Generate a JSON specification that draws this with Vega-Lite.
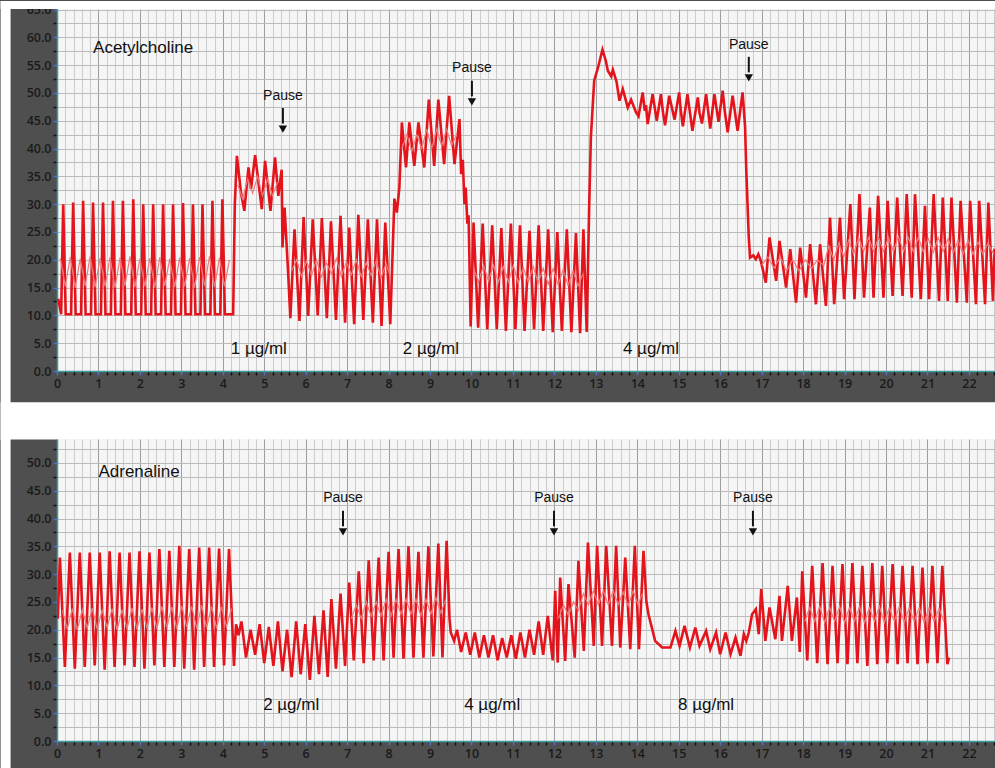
{
"$schema": "https://vega.github.io/schema/vega-lite/v6.json",
"background": "#4f4f4f",
"padding": 0,
"bounds": "flush",
"spacing": 68,
"config": {"view": {"stroke": null, "fill": "#f5f5f5"},
 "axis": {"labelFont": "Open Sans", "labelFontSize": 12.5, "labelFontWeight": 600, "labelColor": "#1a1a1a", "labelPadding": 2, "labelFlush": false, "labelOverlap": false, "labelBound": false, "tickSize": 4, "tickWidth": 1.5, "domainColor": "#3f9c9c", "domainWidth": 1.5, "gridWidth": 1}},
"datasets": {
"ach": [
{"x":0.03,"y":13},
{"x":0.1,"y":10.2},{"x":0.15,"y":30.0},{"x":0.21,"y":10.2},
{"x":0.34,"y":10.2},{"x":0.39,"y":30.3},{"x":0.45,"y":10.2},
{"x":0.58,"y":10.2},{"x":0.63,"y":30.6},{"x":0.69,"y":10.2},
{"x":0.82,"y":10.2},{"x":0.87,"y":30.3},{"x":0.93,"y":10.2},
{"x":1.06,"y":10.2},{"x":1.11,"y":30.3},{"x":1.17,"y":10.2},
{"x":1.3,"y":10.2},{"x":1.35,"y":30.6},{"x":1.41,"y":10.2},
{"x":1.54,"y":10.2},{"x":1.59,"y":30.6},{"x":1.65,"y":10.2},
{"x":1.79,"y":10.2},{"x":1.84,"y":30.9},{"x":1.9,"y":10.2},
{"x":2.03,"y":10.2},{"x":2.08,"y":30.0},{"x":2.14,"y":10.2},
{"x":2.27,"y":10.2},{"x":2.32,"y":30.0},{"x":2.38,"y":10.2},
{"x":2.51,"y":10.2},{"x":2.56,"y":30.0},{"x":2.62,"y":10.2},
{"x":2.75,"y":10.2},{"x":2.8,"y":30.0},{"x":2.86,"y":10.2},
{"x":2.99,"y":10.2},{"x":3.04,"y":30.2},{"x":3.1,"y":10.2},
{"x":3.23,"y":10.2},{"x":3.28,"y":30.0},{"x":3.34,"y":10.2},
{"x":3.46,"y":10.2},{"x":3.51,"y":30.0},{"x":3.57,"y":10.2},
{"x":3.7,"y":10.2},{"x":3.75,"y":30.6},{"x":3.81,"y":10.2},
{"x":3.94,"y":10.2},{"x":3.99,"y":30.9},{"x":4.05,"y":10.2},
{"x":4.25,"y":10.2},{"x":4.29,"y":30},{"x":4.34,"y":38.7},{"x":4.44,"y":32},{"x":4.52,"y":28.8},{"x":4.62,"y":36.6},{"x":4.68,"y":32.7},{"x":4.78,"y":38.8},{"x":4.94,"y":29.1},{"x":5.02,"y":37.8},{"x":5.15,"y":28.8},{"x":5.26,"y":38.4},{"x":5.34,"y":31.5},{"x":5.42,"y":36.2},{"x":5.44,"y":22.2},{"x":5.49,"y":29.4},{"x":5.57,"y":18.6},{"x":5.63,"y":9.5},
{"x":5.73,"y":25.5},{"x":5.85,"y":9.0},{"x":5.95,"y":27.7},{"x":6.06,"y":9.9},{"x":6.17,"y":27.3},{"x":6.29,"y":10.0},{"x":6.39,"y":27.5},{"x":6.51,"y":9.5},{"x":6.61,"y":26.9},{"x":6.73,"y":9.2},{"x":6.84,"y":27.9},{"x":6.95,"y":8.7},{"x":7.05,"y":25.8},{"x":7.17,"y":8.4},{"x":7.27,"y":28.1},{"x":7.39,"y":9.2},{"x":7.5,"y":27.3},{"x":7.62,"y":8.7},{"x":7.72,"y":27.3},{"x":7.83,"y":8.1},{"x":7.92,"y":26.7},{"x":8.04,"y":8.4},
{"x":8.1,"y":22},{"x":8.14,"y":31},{"x":8.2,"y":28.5},{"x":8.26,"y":33},{"x":8.32,"y":44.7},{"x":8.42,"y":36.6},{"x":8.5,"y":44.7},{"x":8.62,"y":36.9},{"x":8.72,"y":44.7},{"x":8.86,"y":36.6},{"x":8.97,"y":48.8},{"x":9.1,"y":36.9},{"x":9.2,"y":48.8},{"x":9.34,"y":37.2},{"x":9.46,"y":49.5},{"x":9.59,"y":37.2},{"x":9.71,"y":45.3},{"x":9.75,"y":35.4},{"x":9.79,"y":38},{"x":9.83,"y":30},{"x":9.86,"y":33},{"x":9.9,"y":26.5},{"x":9.93,"y":28},{"x":9.98,"y":8},
{"x":10.05,"y":26.7},{"x":10.16,"y":7.8},{"x":10.27,"y":26.5},{"x":10.38,"y":7.5},{"x":10.5,"y":26.2},{"x":10.61,"y":7.5},{"x":10.72,"y":25.7},{"x":10.83,"y":7.2},{"x":10.95,"y":26.5},{"x":11.06,"y":7.5},{"x":11.17,"y":26.2},{"x":11.28,"y":7.2},{"x":11.4,"y":25.2},{"x":11.51,"y":7.5},{"x":11.62,"y":26.2},{"x":11.73,"y":7.2},{"x":11.85,"y":25.5},{"x":11.96,"y":7.0},{"x":12.07,"y":25.0},{"x":12.18,"y":7.2},{"x":12.3,"y":25.5},{"x":12.41,"y":7.0},{"x":12.52,"y":24.8},{"x":12.62,"y":6.8},{"x":12.7,"y":25.5},{"x":12.78,"y":7},
{"x":12.84,"y":30},{"x":12.88,"y":42},{"x":12.96,"y":52.2},{"x":13.05,"y":54.5},{"x":13.16,"y":57.8},{"x":13.24,"y":55.8},{"x":13.29,"y":54},{"x":13.37,"y":53},{"x":13.41,"y":54.2},{"x":13.5,"y":52},{"x":13.57,"y":48.6},{"x":13.65,"y":50.7},{"x":13.77,"y":47.4},{"x":13.85,"y":48.8},{"x":13.97,"y":46.5},
{"x":14.03,"y":45.8},{"x":14.13,"y":50.1},{"x":14.18,"y":46.8},{"x":14.21,"y":47.8},{"x":14.25,"y":44.4},{"x":14.37,"y":49.8},{"x":14.47,"y":45},{"x":14.57,"y":49.8},{"x":14.62,"y":46.5},{"x":14.67,"y":44.2},{"x":14.77,"y":49.5},{"x":14.9,"y":45.2},{"x":15.01,"y":50.1},{"x":15.05,"y":46.8},{"x":15.1,"y":44},{"x":15.21,"y":49.8},{"x":15.33,"y":43.2},{"x":15.46,"y":49.2},{"x":15.5,"y":46.5},{"x":15.56,"y":44.5},{"x":15.66,"y":49.8},{"x":15.76,"y":43.6},{"x":15.86,"y":49.8},{"x":15.96,"y":44.8},{"x":16.06,"y":50.4},{"x":16.11,"y":46.8},{"x":16.18,"y":42.9},{"x":16.3,"y":49.5},{"x":16.42,"y":43.2},{"x":16.54,"y":50.1},
{"x":16.6,"y":44},{"x":16.63,"y":36},{"x":16.66,"y":30},{"x":16.69,"y":24},{"x":16.72,"y":20.4},{"x":16.8,"y":20.8},{"x":16.86,"y":20.1},{"x":16.92,"y":21},{"x":16.98,"y":19.8},{"x":17.1,"y":15.9},{"x":17.19,"y":24},{"x":17.35,"y":16.2},{"x":17.43,"y":23.4},{"x":17.59,"y":15},{"x":17.69,"y":21.9},{"x":17.83,"y":12.3},{"x":17.93,"y":22.2},{"x":18.07,"y":13.2},{"x":18.17,"y":22.8},{"x":18.31,"y":12},{"x":18.41,"y":22.8},{"x":18.55,"y":11.7},{"x":18.65,"y":27.6},{"x":18.75,"y":12},{"x":18.89,"y":27.6},{"x":18.99,"y":12.9},{"x":19.14,"y":30},{"x":19.24,"y":12.9},{"x":19.36,"y":31.8},{"x":19.47,"y":13.2},{"x":19.61,"y":29.4},{"x":19.7,"y":13.2},{"x":19.81,"y":31.5},{"x":19.94,"y":13.2},{"x":20.04,"y":30.6},{"x":20.16,"y":13.5},{"x":20.27,"y":31.2},{"x":20.4,"y":13.5},{"x":20.5,"y":31.8},{"x":20.62,"y":13.2},{"x":20.7,"y":31.8},{"x":20.84,"y":12.9},{"x":20.94,"y":29.7},{"x":21.04,"y":12.9},{"x":21.15,"y":31.8},{"x":21.28,"y":12.6},{"x":21.37,"y":31.2},{"x":21.49,"y":12.6},{"x":21.58,"y":31.2},{"x":21.71,"y":12.3},{"x":21.8,"y":30.6},{"x":21.95,"y":12.3},{"x":22.03,"y":30.6},{"x":22.17,"y":12},{"x":22.25,"y":30.6},{"x":22.39,"y":12},{"x":22.47,"y":30.3},{"x":22.58,"y":12.6},{"x":22.62,"y":22}
],
"achm": [
{"s":1,"x":0.08,"y":20.3},{"s":1,"x":0.2,"y":15.2},{"s":1,"x":0.32,"y":20.5},{"s":1,"x":0.44,"y":15},{"s":1,"x":0.56,"y":20.2},{"s":1,"x":0.68,"y":15.3},{"s":1,"x":0.8,"y":20.6},{"s":1,"x":0.92,"y":15.1},{"s":1,"x":1.04,"y":20.3},{"s":1,"x":1.16,"y":15.2},{"s":1,"x":1.28,"y":20.5},{"s":1,"x":1.4,"y":15},{"s":1,"x":1.52,"y":20.4},{"s":1,"x":1.64,"y":15.3},{"s":1,"x":1.76,"y":20.6},{"s":1,"x":1.88,"y":15.1},{"s":1,"x":2.0,"y":20.2},{"s":1,"x":2.12,"y":15.2},{"s":1,"x":2.24,"y":20.3},{"s":1,"x":2.36,"y":15},{"s":1,"x":2.48,"y":20.5},{"s":1,"x":2.6,"y":15.3},{"s":1,"x":2.72,"y":20.2},{"s":1,"x":2.84,"y":15.1},{"s":1,"x":2.96,"y":20.4},{"s":1,"x":3.08,"y":15.2},{"s":1,"x":3.2,"y":20.3},{"s":1,"x":3.32,"y":15},{"s":1,"x":3.44,"y":20.5},{"s":1,"x":3.56,"y":15.3},{"s":1,"x":3.68,"y":20.6},{"s":1,"x":3.8,"y":15.1},{"s":1,"x":3.92,"y":20.4},{"s":1,"x":4.04,"y":15.2},{"s":1,"x":4.16,"y":20},
{"s":2,"x":4.36,"y":33.5},{"s":2,"x":4.48,"y":31},{"s":2,"x":4.6,"y":34.5},{"s":2,"x":4.72,"y":32},{"s":2,"x":4.84,"y":35},{"s":2,"x":4.96,"y":31.5},{"s":2,"x":5.08,"y":34.5},{"s":2,"x":5.2,"y":31.5},{"s":2,"x":5.32,"y":34},
{"s":3,"x":5.66,"y":18},{"s":3,"x":5.78,"y":20},{"s":3,"x":5.9,"y":17},{"s":3,"x":6.02,"y":19.8},{"s":3,"x":6.14,"y":17.2},{"s":3,"x":6.26,"y":20},{"s":3,"x":6.38,"y":17},{"s":3,"x":6.5,"y":19.5},{"s":3,"x":6.62,"y":17.5},{"s":3,"x":6.74,"y":20.2},{"s":3,"x":6.86,"y":17},{"s":3,"x":6.98,"y":19.6},{"s":3,"x":7.1,"y":17.3},{"s":3,"x":7.22,"y":20},{"s":3,"x":7.34,"y":17},{"s":3,"x":7.46,"y":19.5},{"s":3,"x":7.58,"y":17.2},{"s":3,"x":7.7,"y":19.8},{"s":3,"x":7.82,"y":16.8},{"s":3,"x":7.94,"y":19.3},{"s":3,"x":8.04,"y":17},
{"s":4,"x":8.32,"y":40},{"s":4,"x":8.44,"y":42.5},{"s":4,"x":8.56,"y":39.5},{"s":4,"x":8.68,"y":42.5},{"s":4,"x":8.8,"y":40},{"s":4,"x":8.92,"y":43.5},{"s":4,"x":9.04,"y":40},{"s":4,"x":9.16,"y":43.5},{"s":4,"x":9.28,"y":40.5},{"s":4,"x":9.4,"y":43.5},{"s":4,"x":9.52,"y":40.5},{"s":4,"x":9.64,"y":42.5},
{"s":5,"x":10.05,"y":18.5},{"s":5,"x":10.17,"y":16},{"s":5,"x":10.29,"y":19},{"s":5,"x":10.41,"y":16.2},{"s":5,"x":10.53,"y":19},{"s":5,"x":10.65,"y":16},{"s":5,"x":10.77,"y":18.8},{"s":5,"x":10.89,"y":16},{"s":5,"x":11.01,"y":19},{"s":5,"x":11.13,"y":15.8},{"s":5,"x":11.25,"y":18.6},{"s":5,"x":11.37,"y":16},{"s":5,"x":11.49,"y":18.8},{"s":5,"x":11.61,"y":15.8},{"s":5,"x":11.73,"y":18.5},{"s":5,"x":11.85,"y":15.6},{"s":5,"x":11.97,"y":18.4},{"s":5,"x":12.09,"y":15.5},{"s":5,"x":12.21,"y":18.2},{"s":5,"x":12.33,"y":15.4},{"s":5,"x":12.45,"y":18},{"s":5,"x":12.57,"y":15.3},{"s":5,"x":12.69,"y":17.5},
{"s":6,"x":17.0,"y":19},{"s":6,"x":17.15,"y":20.5},{"s":6,"x":17.3,"y":18.5},{"s":6,"x":17.45,"y":20.5},{"s":6,"x":17.6,"y":18},{"s":6,"x":17.75,"y":20},{"s":6,"x":17.9,"y":18},{"s":6,"x":18.05,"y":20},{"s":6,"x":18.2,"y":18.5},{"s":6,"x":18.35,"y":20},{"s":6,"x":18.5,"y":19},{"s":6,"x":18.62,"y":22.5},{"s":6,"x":18.74,"y":20},{"s":6,"x":18.86,"y":23},{"s":6,"x":18.98,"y":20.5},{"s":6,"x":19.1,"y":23.5},{"s":6,"x":19.22,"y":21},{"s":6,"x":19.34,"y":24},{"s":6,"x":19.46,"y":21.5},{"s":6,"x":19.58,"y":24},{"s":6,"x":19.7,"y":21.5},{"s":6,"x":19.82,"y":24},{"s":6,"x":19.94,"y":21.5},{"s":6,"x":20.06,"y":24},{"s":6,"x":20.18,"y":21.5},{"s":6,"x":20.3,"y":24.2},{"s":6,"x":20.42,"y":21.5},{"s":6,"x":20.54,"y":24},{"s":6,"x":20.66,"y":21.5},{"s":6,"x":20.78,"y":24},{"s":6,"x":20.9,"y":21.5},{"s":6,"x":21.02,"y":23.8},{"s":6,"x":21.14,"y":21.3},{"s":6,"x":21.26,"y":24},{"s":6,"x":21.38,"y":21.5},{"s":6,"x":21.5,"y":23.8},{"s":6,"x":21.62,"y":21.3},{"s":6,"x":21.74,"y":23.5},{"s":6,"x":21.86,"y":21},{"s":6,"x":21.98,"y":23.5},{"s":6,"x":22.1,"y":21},{"s":6,"x":22.22,"y":23.2},{"s":6,"x":22.34,"y":21},{"s":6,"x":22.46,"y":23},{"s":6,"x":22.6,"y":21}
],
"adr": [
{"x":0.02,"y":22},{"x":0.07,"y":33.0},{"x":0.19,"y":13.3},{"x":0.31,"y":33.9},{"x":0.43,"y":13.0},{"x":0.55,"y":33.9},{"x":0.67,"y":13.3},{"x":0.79,"y":33.9},{"x":0.91,"y":13.6},{"x":1.03,"y":33.9},{"x":1.15,"y":12.8},{"x":1.27,"y":34.1},{"x":1.39,"y":13.3},{"x":1.51,"y":33.9},{"x":1.63,"y":13.6},{"x":1.75,"y":33.9},{"x":1.87,"y":13.3},{"x":1.99,"y":34.1},{"x":2.11,"y":13.0},{"x":2.23,"y":33.9},{"x":2.35,"y":13.6},{"x":2.47,"y":34.5},{"x":2.59,"y":13.3},{"x":2.71,"y":34.2},{"x":2.83,"y":13.3},{"x":2.95,"y":35.1},{"x":3.07,"y":13.0},{"x":3.19,"y":34.5},{"x":3.31,"y":12.8},{"x":3.43,"y":34.8},{"x":3.55,"y":13.3},{"x":3.67,"y":34.8},{"x":3.79,"y":13.3},{"x":3.91,"y":34.6},{"x":4.03,"y":13.6},{"x":4.15,"y":34.5},{"x":4.27,"y":13.5},
{"x":4.32,"y":21},{"x":4.38,"y":19},{"x":4.45,"y":21.5},{"x":4.56,"y":15},{"x":4.67,"y":20},{"x":4.78,"y":15.5},{"x":4.89,"y":21},{"x":5.0,"y":14},{"x":5.11,"y":20.5},{"x":5.22,"y":13.5},{"x":5.33,"y":21.5},{"x":5.44,"y":12.5},{"x":5.55,"y":20},{"x":5.66,"y":11.5},{"x":5.77,"y":21.5},{"x":5.88,"y":12},{"x":5.99,"y":21},{"x":6.1,"y":11},{"x":6.21,"y":22.5},{"x":6.32,"y":12},{"x":6.43,"y":23.5},{"x":6.53,"y":11.5},{"x":6.62,"y":25.5},{"x":6.73,"y":13},{"x":6.84,"y":26.5},{"x":6.95,"y":13.5},
{"x":7.05,"y":28.5},{"x":7.16,"y":14.5},{"x":7.28,"y":30.5},{"x":7.4,"y":14},{"x":7.52,"y":32.5},{"x":7.64,"y":14.5},{"x":7.76,"y":33},{"x":7.88,"y":14.5},{"x":8.0,"y":34},{"x":8.12,"y":15},{"x":8.24,"y":34.5},{"x":8.36,"y":14.8},{"x":8.48,"y":35},{"x":8.6,"y":15},{"x":8.72,"y":34},{"x":8.84,"y":15},{"x":8.96,"y":35},{"x":9.08,"y":15.2},{"x":9.2,"y":35.5},{"x":9.3,"y":15},{"x":9.4,"y":36},{"x":9.47,"y":22},
{"x":9.5,"y":19.5},{"x":9.58,"y":18},{"x":9.65,"y":20},{"x":9.75,"y":16},{"x":9.86,"y":19.5},{"x":9.97,"y":15.5},{"x":10.08,"y":19.5},{"x":10.19,"y":15},{"x":10.3,"y":19},{"x":10.41,"y":15},{"x":10.52,"y":19},{"x":10.63,"y":14.5},{"x":10.74,"y":18.5},{"x":10.85,"y":15},{"x":10.96,"y":19},{"x":11.07,"y":14.8},{"x":11.18,"y":19.5},{"x":11.29,"y":15},{"x":11.4,"y":20},{"x":11.51,"y":15.5},{"x":11.62,"y":21.5},{"x":11.73,"y":15.5},{"x":11.84,"y":22.5},{"x":11.92,"y":17},
{"x":11.96,"y":14.5},{"x":12.02,"y":27},{"x":12.08,"y":14.1},{"x":12.14,"y":29.4},{"x":12.26,"y":14.4},{"x":12.34,"y":28.2},{"x":12.49,"y":15},{"x":12.58,"y":32.4},{"x":12.71,"y":16.2},{"x":12.81,"y":35.7},{"x":12.95,"y":17.1},{"x":13.03,"y":35.1},{"x":13.15,"y":17.1},{"x":13.25,"y":35.1},{"x":13.39,"y":17.1},{"x":13.49,"y":35.1},{"x":13.59,"y":16.8},{"x":13.71,"y":33},{"x":13.83,"y":16.5},{"x":13.94,"y":35.1},{"x":14.04,"y":16.5},{"x":14.15,"y":34.2},{"x":14.22,"y":25},{"x":14.27,"y":22.8},{"x":14.43,"y":18},{"x":14.6,"y":16.8},
{"x":14.8,"y":16.8},{"x":14.92,"y":19.8},{"x":15.02,"y":17.1},{"x":15.14,"y":20.7},{"x":15.27,"y":16.8},{"x":15.4,"y":20.4},{"x":15.5,"y":17.1},{"x":15.66,"y":19.8},{"x":15.76,"y":16.5},{"x":15.9,"y":19.5},{"x":16.0,"y":15.6},{"x":16.13,"y":19.5},{"x":16.25,"y":15.6},{"x":16.37,"y":18.6},{"x":16.49,"y":15.3},{"x":16.57,"y":19.2},{"x":16.63,"y":18},{"x":16.69,"y":19.5},{"x":16.77,"y":22.8},{"x":16.86,"y":23.7},{"x":16.93,"y":19.2},{"x":16.99,"y":27.3},{"x":17.09,"y":18},{"x":17.19,"y":24},{"x":17.33,"y":18.3},{"x":17.43,"y":26.1},{"x":17.49,"y":18},{"x":17.63,"y":27.9},{"x":17.73,"y":18},{"x":17.85,"y":25.8},{"x":17.92,"y":16},
{"x":17.98,"y":30.5},{"x":18.1,"y":14.5},{"x":18.22,"y":31.5},{"x":18.34,"y":14},{"x":18.47,"y":32},{"x":18.59,"y":13.8},{"x":18.71,"y":31.5},{"x":18.83,"y":14},{"x":18.95,"y":31.8},{"x":19.07,"y":13.8},{"x":19.19,"y":32},{"x":19.31,"y":14},{"x":19.43,"y":31.5},{"x":19.55,"y":13.5},{"x":19.67,"y":32},{"x":19.79,"y":13.8},{"x":19.91,"y":31.5},{"x":20.03,"y":14},{"x":20.16,"y":31.8},{"x":20.28,"y":13.8},{"x":20.4,"y":31.5},{"x":20.52,"y":14},{"x":20.64,"y":31.5},{"x":20.76,"y":13.8},{"x":20.88,"y":31.2},{"x":21.0,"y":14},{"x":21.12,"y":31.5},{"x":21.24,"y":14},{"x":21.36,"y":31.5},{"x":21.48,"y":13.8},{"x":21.52,"y":15}
],
"adrm": [
{"s":1,"x":0.13,"y":23.5},{"s":1,"x":0.25,"y":20.2},{"s":1,"x":0.37,"y":23.8},{"s":1,"x":0.49,"y":20},{"s":1,"x":0.61,"y":23.6},{"s":1,"x":0.73,"y":20.3},{"s":1,"x":0.85,"y":23.9},{"s":1,"x":0.97,"y":20.1},{"s":1,"x":1.09,"y":23.5},{"s":1,"x":1.21,"y":20.4},{"s":1,"x":1.33,"y":23.8},{"s":1,"x":1.45,"y":20},{"s":1,"x":1.57,"y":23.6},{"s":1,"x":1.69,"y":20.2},{"s":1,"x":1.81,"y":23.9},{"s":1,"x":1.93,"y":20.1},{"s":1,"x":2.05,"y":23.7},{"s":1,"x":2.17,"y":20.3},{"s":1,"x":2.29,"y":24},{"s":1,"x":2.41,"y":20.2},{"s":1,"x":2.53,"y":24.2},{"s":1,"x":2.65,"y":20.4},{"s":1,"x":2.77,"y":24.1},{"s":1,"x":2.89,"y":20.2},{"s":1,"x":3.01,"y":24.3},{"s":1,"x":3.13,"y":20.5},{"s":1,"x":3.25,"y":24.2},{"s":1,"x":3.37,"y":20.3},{"s":1,"x":3.49,"y":24.4},{"s":1,"x":3.61,"y":20.4},{"s":1,"x":3.73,"y":24.2},{"s":1,"x":3.85,"y":20.3},{"s":1,"x":3.97,"y":24.1},{"s":1,"x":4.09,"y":20.5},{"s":1,"x":4.21,"y":23.8},
{"s":2,"x":7.1,"y":22},{"s":2,"x":7.22,"y":24.5},{"s":2,"x":7.34,"y":22},{"s":2,"x":7.46,"y":25},{"s":2,"x":7.58,"y":22.5},{"s":2,"x":7.7,"y":25},{"s":2,"x":7.82,"y":22.5},{"s":2,"x":7.94,"y":25.5},{"s":2,"x":8.06,"y":22.5},{"s":2,"x":8.18,"y":25.5},{"s":2,"x":8.3,"y":22.8},{"s":2,"x":8.42,"y":25.5},{"s":2,"x":8.54,"y":22.8},{"s":2,"x":8.66,"y":25.5},{"s":2,"x":8.78,"y":22.5},{"s":2,"x":8.9,"y":25.5},{"s":2,"x":9.02,"y":22.8},{"s":2,"x":9.14,"y":25.8},{"s":2,"x":9.26,"y":23},{"s":2,"x":9.38,"y":25.5},
{"s":3,"x":12.1,"y":22},{"s":3,"x":12.22,"y":24.5},{"s":3,"x":12.34,"y":22.5},{"s":3,"x":12.46,"y":25},{"s":3,"x":12.58,"y":23.5},{"s":3,"x":12.7,"y":26.5},{"s":3,"x":12.82,"y":24.5},{"s":3,"x":12.94,"y":27},{"s":3,"x":13.06,"y":24.5},{"s":3,"x":13.18,"y":27},{"s":3,"x":13.3,"y":24.5},{"s":3,"x":13.42,"y":27},{"s":3,"x":13.54,"y":24.5},{"s":3,"x":13.66,"y":26.8},{"s":3,"x":13.78,"y":24.3},{"s":3,"x":13.9,"y":27},{"s":3,"x":14.02,"y":24.5},{"s":3,"x":14.12,"y":26.5},
{"s":4,"x":18.04,"y":21.5},{"s":4,"x":18.16,"y":24},{"s":4,"x":18.28,"y":21.5},{"s":4,"x":18.4,"y":24.2},{"s":4,"x":18.52,"y":21.3},{"s":4,"x":18.64,"y":24},{"s":4,"x":18.76,"y":21.5},{"s":4,"x":18.88,"y":24.2},{"s":4,"x":19.0,"y":21.3},{"s":4,"x":19.12,"y":24},{"s":4,"x":19.24,"y":21.5},{"s":4,"x":19.36,"y":24.2},{"s":4,"x":19.48,"y":21.3},{"s":4,"x":19.6,"y":24},{"s":4,"x":19.72,"y":21.5},{"s":4,"x":19.84,"y":24.2},{"s":4,"x":19.96,"y":21.3},{"s":4,"x":20.08,"y":24},{"s":4,"x":20.2,"y":21.5},{"s":4,"x":20.32,"y":24.2},{"s":4,"x":20.44,"y":21.3},{"s":4,"x":20.56,"y":24},{"s":4,"x":20.68,"y":21.5},{"s":4,"x":20.8,"y":24},{"s":4,"x":20.92,"y":21.3},{"s":4,"x":21.04,"y":24},{"s":4,"x":21.16,"y":21.5},{"s":4,"x":21.28,"y":23.8},{"s":4,"x":21.4,"y":21.5}
]
},
"vconcat": [
{
"width": 938, "height": 362,
"layer": [
{
"encoding": {
 "x": {"field": "x", "type": "quantitative", "scale": {"domain": [0, 22.63], "nice": false, "zero": false},
  "axis": {"title": null, "values": [0,0.2,0.4,0.6,0.8,1,1.2,1.4,1.6,1.8,2,2.2,2.4,2.6,2.8,3,3.2,3.4,3.6,3.8,4,4.2,4.4,4.6,4.8,5,5.2,5.4,5.6,5.8,6,6.2,6.4,6.6,6.8,7,7.2,7.4,7.6,7.8,8,8.2,8.4,8.6,8.8,9,9.2,9.4,9.6,9.8,10,10.2,10.4,10.6,10.8,11,11.2,11.4,11.6,11.8,12,12.2,12.4,12.6,12.8,13,13.2,13.4,13.6,13.8,14,14.2,14.4,14.6,14.8,15,15.2,15.4,15.6,15.8,16,16.2,16.4,16.6,16.8,17,17.2,17.4,17.6,17.8,18,18.2,18.4,18.6,18.8,19,19.2,19.4,19.6,19.8,20,20.2,20.4,20.6,20.8,21,21.2,21.4,21.6,21.8,22,22.2,22.4,22.6],
   "grid": true, "gridColor": {"condition": {"test": "abs(datum.value-round(datum.value))<0.01", "value": "#9e9e9e"}, "value": "#cdcdcd"},
   "labelExpr": "abs(datum.value-round(datum.value))<0.01 ? format(datum.value,'d') : ''",
   "tickColor": {"condition": {"test": "abs(datum.value-round(datum.value))<0.01", "value": "#4a6fc8"}, "value": "#111111"}}},
 "y": {"field": "y", "type": "quantitative", "scale": {"domain": [0, 65.1], "nice": false, "zero": false},
  "axis": {"title": null, "values": [0,2.5,5,7.5,10,12.5,15,17.5,20,22.5,25,27.5,30,32.5,35,37.5,40,42.5,45,47.5,50,52.5,55,57.5,60,62.5,65],
   "grid": true, "gridColor": "#bbbbbb",
   "labelExpr": "datum.value % 5 == 0 ? format(datum.value,'.1f') : ''",
   "tickColor": {"condition": {"test": "datum.value % 5 == 0", "value": "#4a6fc8"}, "value": "#111111"}}}
},
"layer": [
{"data": {"name": "ach"}, "mark": {"type": "line", "color": "#e3141c", "strokeWidth": 2.6, "clip": true}},
{"data": {"name": "achm"}, "mark": {"type": "line", "color": "#f07a7a", "strokeWidth": 1.2, "clip": true}, "encoding": {"detail": {"field": "s"}}},
{"data": {"values": [{"x": 0.87, "y": 58.1, "t": "Acetylcholine"}]}, "mark": {"type": "text", "align": "left", "baseline": "middle", "font": "Liberation Sans", "fontSize": 17, "color": "#111111"},
 "encoding": {"text": {"field": "t"}}},
{"data": {"values": [{"x": 4.87, "y": 4.0, "t": "1 µg/ml"}, {"x": 9.02, "y": 4.0, "t": "2 µg/ml"}, {"x": 14.33, "y": 4.0, "t": "4 µg/ml"}]}, "mark": {"type": "text", "align": "center", "baseline": "middle", "font": "Liberation Sans", "fontSize": 17, "color": "#111111"},
 "encoding": {"text": {"field": "t"}}},
{"data": {"values": [{"x": 5.45, "y": 49.5}, {"x": 10.01, "y": 54.5}, {"x": 16.69, "y": 58.6}]},
 "mark": {"type": "text", "align": "center", "baseline": "middle", "font": "Liberation Sans", "fontSize": 14, "color": "#111111"},
 "encoding": {"text": {"value": "Pause"}}},
{"data": {"values": [{"x": 5.45, "y": 47.3, "b": 44.5}, {"x": 10.01, "y": 52.2, "b": 49.4}, {"x": 16.69, "y": 56.5, "b": 53.7}]},
 "mark": {"type": "rule", "color": "#111111", "strokeWidth": 2},
 "encoding": {"y2": {"field": "b"}}},
{"data": {"values": [{"x": 5.45, "y": 43.5}, {"x": 10.01, "y": 48.4}, {"x": 16.69, "y": 52.7}]},
 "mark": {"type": "point", "shape": "triangle-down", "filled": true, "color": "#111111", "size": 70, "opacity": 1}}
]
},
{"data": {"values": [{}]}, "mark": {"type": "rect", "color": "#ffffff", "clip": false},
 "encoding": {
  "x": {"datum": -1.36, "type": "quantitative", "axis": {"title": null, "values": [0,0.2,0.4,0.6,0.8,1,1.2,1.4,1.6,1.8,2,2.2,2.4,2.6,2.8,3,3.2,3.4,3.6,3.8,4,4.2,4.4,4.6,4.8,5,5.2,5.4,5.6,5.8,6,6.2,6.4,6.6,6.8,7,7.2,7.4,7.6,7.8,8,8.2,8.4,8.6,8.8,9,9.2,9.4,9.6,9.8,10,10.2,10.4,10.6,10.8,11,11.2,11.4,11.6,11.8,12,12.2,12.4,12.6,12.8,13,13.2,13.4,13.6,13.8,14,14.2,14.4,14.6,14.8,15,15.2,15.4,15.6,15.8,16,16.2,16.4,16.6,16.8,17,17.2,17.4,17.6,17.8,18,18.2,18.4,18.6,18.8,19,19.2,19.4,19.6,19.8,20,20.2,20.4,20.6,20.8,21,21.2,21.4,21.6,21.8,22,22.2,22.4,22.6],
   "grid": true, "gridColor": {"condition": {"test": "abs(datum.value-round(datum.value))<0.01", "value": "#9e9e9e"}, "value": "#cdcdcd"},
   "labelExpr": "abs(datum.value-round(datum.value))<0.01 ? format(datum.value,'d') : ''",
   "tickColor": {"condition": {"test": "abs(datum.value-round(datum.value))<0.01", "value": "#4a6fc8"}, "value": "#111111"}}},
  "x2": {"datum": 22.63},
  "y": {"datum": 65.1, "type": "quantitative", "axis": {"title": null, "values": [0,2.5,5,7.5,10,12.5,15,17.5,20,22.5,25,27.5,30,32.5,35,37.5,40,42.5,45,47.5,50,52.5,55,57.5,60,62.5,65],
   "grid": true, "gridColor": "#bbbbbb",
   "labelExpr": "datum.value % 5 == 0 ? format(datum.value,'.1f') : ''",
   "tickColor": {"condition": {"test": "datum.value % 5 == 0", "value": "#4a6fc8"}, "value": "#111111"}}},
  "y2": {"datum": 66.55}}},
{"data": {"values": [{}]}, "mark": {"type": "rect", "color": "#ffffff", "clip": false},
 "encoding": {
  "x": {"datum": -1.36, "type": "quantitative", "axis": {"title": null, "values": [0,0.2,0.4,0.6,0.8,1,1.2,1.4,1.6,1.8,2,2.2,2.4,2.6,2.8,3,3.2,3.4,3.6,3.8,4,4.2,4.4,4.6,4.8,5,5.2,5.4,5.6,5.8,6,6.2,6.4,6.6,6.8,7,7.2,7.4,7.6,7.8,8,8.2,8.4,8.6,8.8,9,9.2,9.4,9.6,9.8,10,10.2,10.4,10.6,10.8,11,11.2,11.4,11.6,11.8,12,12.2,12.4,12.6,12.8,13,13.2,13.4,13.6,13.8,14,14.2,14.4,14.6,14.8,15,15.2,15.4,15.6,15.8,16,16.2,16.4,16.6,16.8,17,17.2,17.4,17.6,17.8,18,18.2,18.4,18.6,18.8,19,19.2,19.4,19.6,19.8,20,20.2,20.4,20.6,20.8,21,21.2,21.4,21.6,21.8,22,22.2,22.4,22.6],
   "grid": true, "gridColor": {"condition": {"test": "abs(datum.value-round(datum.value))<0.01", "value": "#9e9e9e"}, "value": "#cdcdcd"},
   "labelExpr": "abs(datum.value-round(datum.value))<0.01 ? format(datum.value,'d') : ''",
   "tickColor": {"condition": {"test": "abs(datum.value-round(datum.value))<0.01", "value": "#4a6fc8"}, "value": "#111111"}}},
  "x2": {"datum": -1.12},
  "y": {"datum": -12.3, "type": "quantitative", "axis": {"title": null, "values": [0,2.5,5,7.5,10,12.5,15,17.5,20,22.5,25,27.5,30,32.5,35,37.5,40,42.5,45,47.5,50,52.5,55,57.5,60,62.5,65],
   "grid": true, "gridColor": "#bbbbbb",
   "labelExpr": "datum.value % 5 == 0 ? format(datum.value,'.1f') : ''",
   "tickColor": {"condition": {"test": "datum.value % 5 == 0", "value": "#4a6fc8"}, "value": "#111111"}}},
  "y2": {"datum": 66.55}}},
{"data": {"values": [{}]}, "mark": {"type": "rect", "color": "#ffffff", "clip": false},
 "encoding": {
  "x": {"datum": -1.36, "type": "quantitative", "axis": {"title": null, "values": [0,0.2,0.4,0.6,0.8,1,1.2,1.4,1.6,1.8,2,2.2,2.4,2.6,2.8,3,3.2,3.4,3.6,3.8,4,4.2,4.4,4.6,4.8,5,5.2,5.4,5.6,5.8,6,6.2,6.4,6.6,6.8,7,7.2,7.4,7.6,7.8,8,8.2,8.4,8.6,8.8,9,9.2,9.4,9.6,9.8,10,10.2,10.4,10.6,10.8,11,11.2,11.4,11.6,11.8,12,12.2,12.4,12.6,12.8,13,13.2,13.4,13.6,13.8,14,14.2,14.4,14.6,14.8,15,15.2,15.4,15.6,15.8,16,16.2,16.4,16.6,16.8,17,17.2,17.4,17.6,17.8,18,18.2,18.4,18.6,18.8,19,19.2,19.4,19.6,19.8,20,20.2,20.4,20.6,20.8,21,21.2,21.4,21.6,21.8,22,22.2,22.4,22.6],
   "grid": true, "gridColor": {"condition": {"test": "abs(datum.value-round(datum.value))<0.01", "value": "#9e9e9e"}, "value": "#cdcdcd"},
   "labelExpr": "abs(datum.value-round(datum.value))<0.01 ? format(datum.value,'d') : ''",
   "tickColor": {"condition": {"test": "abs(datum.value-round(datum.value))<0.01", "value": "#4a6fc8"}, "value": "#111111"}}},
  "x2": {"datum": 22.63},
  "y": {"datum": -12.3, "type": "quantitative", "axis": {"title": null, "values": [0,2.5,5,7.5,10,12.5,15,17.5,20,22.5,25,27.5,30,32.5,35,37.5,40,42.5,45,47.5,50,52.5,55,57.5,60,62.5,65],
   "grid": true, "gridColor": "#bbbbbb",
   "labelExpr": "datum.value % 5 == 0 ? format(datum.value,'.1f') : ''",
   "tickColor": {"condition": {"test": "datum.value % 5 == 0", "value": "#4a6fc8"}, "value": "#111111"}}},
  "y2": {"datum": -5.6}}}
]
},
{
"width": 938, "height": 302,
"layer": [
{
"encoding": {
 "x": {"field": "x", "type": "quantitative", "scale": {"domain": [0, 22.63], "nice": false, "zero": false},
  "axis": {"title": null, "values": [0,0.2,0.4,0.6,0.8,1,1.2,1.4,1.6,1.8,2,2.2,2.4,2.6,2.8,3,3.2,3.4,3.6,3.8,4,4.2,4.4,4.6,4.8,5,5.2,5.4,5.6,5.8,6,6.2,6.4,6.6,6.8,7,7.2,7.4,7.6,7.8,8,8.2,8.4,8.6,8.8,9,9.2,9.4,9.6,9.8,10,10.2,10.4,10.6,10.8,11,11.2,11.4,11.6,11.8,12,12.2,12.4,12.6,12.8,13,13.2,13.4,13.6,13.8,14,14.2,14.4,14.6,14.8,15,15.2,15.4,15.6,15.8,16,16.2,16.4,16.6,16.8,17,17.2,17.4,17.6,17.8,18,18.2,18.4,18.6,18.8,19,19.2,19.4,19.6,19.8,20,20.2,20.4,20.6,20.8,21,21.2,21.4,21.6,21.8,22,22.2,22.4,22.6],
   "grid": true, "gridColor": {"condition": {"test": "abs(datum.value-round(datum.value))<0.01", "value": "#9e9e9e"}, "value": "#cdcdcd"},
   "labelExpr": "abs(datum.value-round(datum.value))<0.01 ? format(datum.value,'d') : ''",
   "tickColor": {"condition": {"test": "abs(datum.value-round(datum.value))<0.01", "value": "#4a6fc8"}, "value": "#111111"}}},
 "y": {"field": "y", "type": "quantitative", "scale": {"domain": [0, 54.3], "nice": false, "zero": false},
  "axis": {"title": null, "values": [0,2.5,5,7.5,10,12.5,15,17.5,20,22.5,25,27.5,30,32.5,35,37.5,40,42.5,45,47.5,50,52.5],
   "grid": true, "gridColor": "#bbbbbb",
   "labelExpr": "datum.value % 5 == 0 ? format(datum.value,'.1f') : ''",
   "tickColor": {"condition": {"test": "datum.value % 5 == 0", "value": "#4a6fc8"}, "value": "#111111"}}}
},
"layer": [
{"data": {"name": "adr"}, "mark": {"type": "line", "color": "#e3141c", "strokeWidth": 2.6, "clip": true}},
{"data": {"name": "adrm"}, "mark": {"type": "line", "color": "#f07a7a", "strokeWidth": 1.2, "clip": true}, "encoding": {"detail": {"field": "s"}}},
{"data": {"values": [{"x": 1.0, "y": 48.4, "t": "Adrenaline"}]}, "mark": {"type": "text", "align": "left", "baseline": "middle", "font": "Liberation Sans", "fontSize": 17, "color": "#111111"},
 "encoding": {"text": {"field": "t"}}},
{"data": {"values": [{"x": 5.65, "y": 6.5, "t": "2 µg/ml"}, {"x": 10.5, "y": 6.5, "t": "4 µg/ml"}, {"x": 15.66, "y": 6.5, "t": "8 µg/ml"}]}, "mark": {"type": "text", "align": "center", "baseline": "middle", "font": "Liberation Sans", "fontSize": 17, "color": "#111111"},
 "encoding": {"text": {"field": "t"}}},
{"data": {"values": [{"x": 6.9, "y": 43.7}, {"x": 11.99, "y": 43.7}, {"x": 16.79, "y": 43.7}]},
 "mark": {"type": "text", "align": "center", "baseline": "middle", "font": "Liberation Sans", "fontSize": 14, "color": "#111111"},
 "encoding": {"text": {"value": "Pause"}}},
{"data": {"values": [{"x": 6.9, "y": 41.4, "b": 38.6}, {"x": 11.99, "y": 41.4, "b": 38.6}, {"x": 16.79, "y": 41.4, "b": 38.6}]},
 "mark": {"type": "rule", "color": "#111111", "strokeWidth": 2},
 "encoding": {"y2": {"field": "b"}}},
{"data": {"values": [{"x": 6.9, "y": 37.6}, {"x": 11.99, "y": 37.6}, {"x": 16.79, "y": 37.6}]},
 "mark": {"type": "point", "shape": "triangle-down", "filled": true, "color": "#111111", "size": 70, "opacity": 1}}
]
},
{"data": {"values": [{}]}, "mark": {"type": "rect", "color": "#ffffff", "clip": false},
 "encoding": {
  "x": {"datum": -1.36, "type": "quantitative", "axis": {"title": null, "values": [0,0.2,0.4,0.6,0.8,1,1.2,1.4,1.6,1.8,2,2.2,2.4,2.6,2.8,3,3.2,3.4,3.6,3.8,4,4.2,4.4,4.6,4.8,5,5.2,5.4,5.6,5.8,6,6.2,6.4,6.6,6.8,7,7.2,7.4,7.6,7.8,8,8.2,8.4,8.6,8.8,9,9.2,9.4,9.6,9.8,10,10.2,10.4,10.6,10.8,11,11.2,11.4,11.6,11.8,12,12.2,12.4,12.6,12.8,13,13.2,13.4,13.6,13.8,14,14.2,14.4,14.6,14.8,15,15.2,15.4,15.6,15.8,16,16.2,16.4,16.6,16.8,17,17.2,17.4,17.6,17.8,18,18.2,18.4,18.6,18.8,19,19.2,19.4,19.6,19.8,20,20.2,20.4,20.6,20.8,21,21.2,21.4,21.6,21.8,22,22.2,22.4,22.6],
   "grid": true, "gridColor": {"condition": {"test": "abs(datum.value-round(datum.value))<0.01", "value": "#9e9e9e"}, "value": "#cdcdcd"},
   "labelExpr": "abs(datum.value-round(datum.value))<0.01 ? format(datum.value,'d') : ''",
   "tickColor": {"condition": {"test": "abs(datum.value-round(datum.value))<0.01", "value": "#4a6fc8"}, "value": "#111111"}}},
  "x2": {"datum": -1.12},
  "y": {"datum": -5.0, "type": "quantitative", "axis": {"title": null, "values": [0,2.5,5,7.5,10,12.5,15,17.5,20,22.5,25,27.5,30,32.5,35,37.5,40,42.5,45,47.5,50,52.5],
   "grid": true, "gridColor": "#bbbbbb",
   "labelExpr": "datum.value % 5 == 0 ? format(datum.value,'.1f') : ''",
   "tickColor": {"condition": {"test": "datum.value % 5 == 0", "value": "#4a6fc8"}, "value": "#111111"}}},
  "y2": {"datum": 54.3}}}
]
}
]
}
